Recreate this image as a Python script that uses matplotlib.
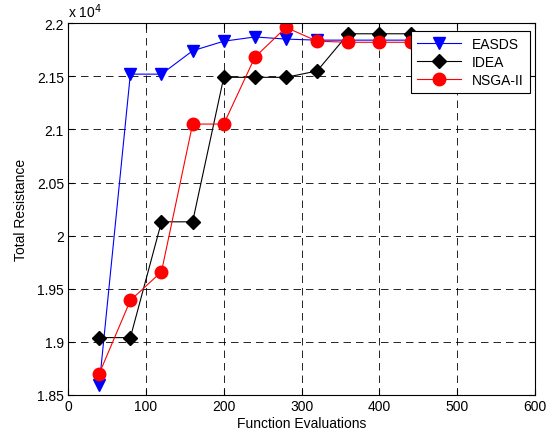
import matplotlib.pyplot as plt
from matplotlib.ticker import FuncFormatter

plt.rcParams['font.family'] = ['Liberation Sans', 'DejaVu Sans']

# Data
evals = [40, 80, 120, 160, 200, 240, 280, 320, 360, 400, 440]
easds = [18590, 21520, 21520, 21740, 21830, 21870, 21850, 21840, 21840, 21840, 21840]
idea = [19040, 19040, 20130, 20130, 21490, 21490, 21490, 21550, 21900, 21900, 21900]
nsga = [18700, 19390, 19660, 21050, 21050, 21680, 21960, 21830, 21820, 21820, 21820]

x_ticks = [0, 100, 200, 300, 400, 500, 600]
y_ticks = [18500, 19000, 19500, 20000, 20500, 21000, 21500, 22000]

fig = plt.figure(figsize=(5.58, 4.39), dpi=100)
ax = fig.add_axes([0.122, 0.098, 0.837, 0.847])

ax.plot(evals, easds, color="blue", marker="v", markersize=8, linewidth=0.8, label="EASDS")
ax.plot(evals, idea, color="black", marker="D", markersize=7, linewidth=0.8, label="IDEA")
ax.plot(evals, nsga, color="red", marker="o", markersize=9, linewidth=0.8, label="NSGA-II")

ax.set_xlim(0, 600)
ax.set_ylim(18500, 22000)
ax.set_xticks(x_ticks)
ax.set_yticks(y_ticks)
ax.yaxis.set_major_formatter(FuncFormatter(lambda v, p: f"{v / 1e4:g}"))
ax.tick_params(direction="in", labelsize=10, top=True, right=True, length=4, pad=3)
ax.grid(True, color="black", linestyle=(0, (9, 6)), linewidth=0.6)

ax.set_xlabel("Function Evaluations", fontsize=10, labelpad=2)
ax.set_ylabel("Total Resistance", fontsize=10, labelpad=6)
ax.text(0.0, 1.008, r"x 10$^4$", transform=ax.transAxes, fontsize=10,
        ha="left", va="bottom")

leg = ax.legend(loc="upper right", fontsize=10, fancybox=False, framealpha=1,
                edgecolor="black", borderaxespad=0, handlelength=3.2,
                labelspacing=0.3, bbox_to_anchor=(0.988, 0.978))
leg.get_frame().set_linewidth(0.8)

plt.savefig("out.png", dpi=100)
